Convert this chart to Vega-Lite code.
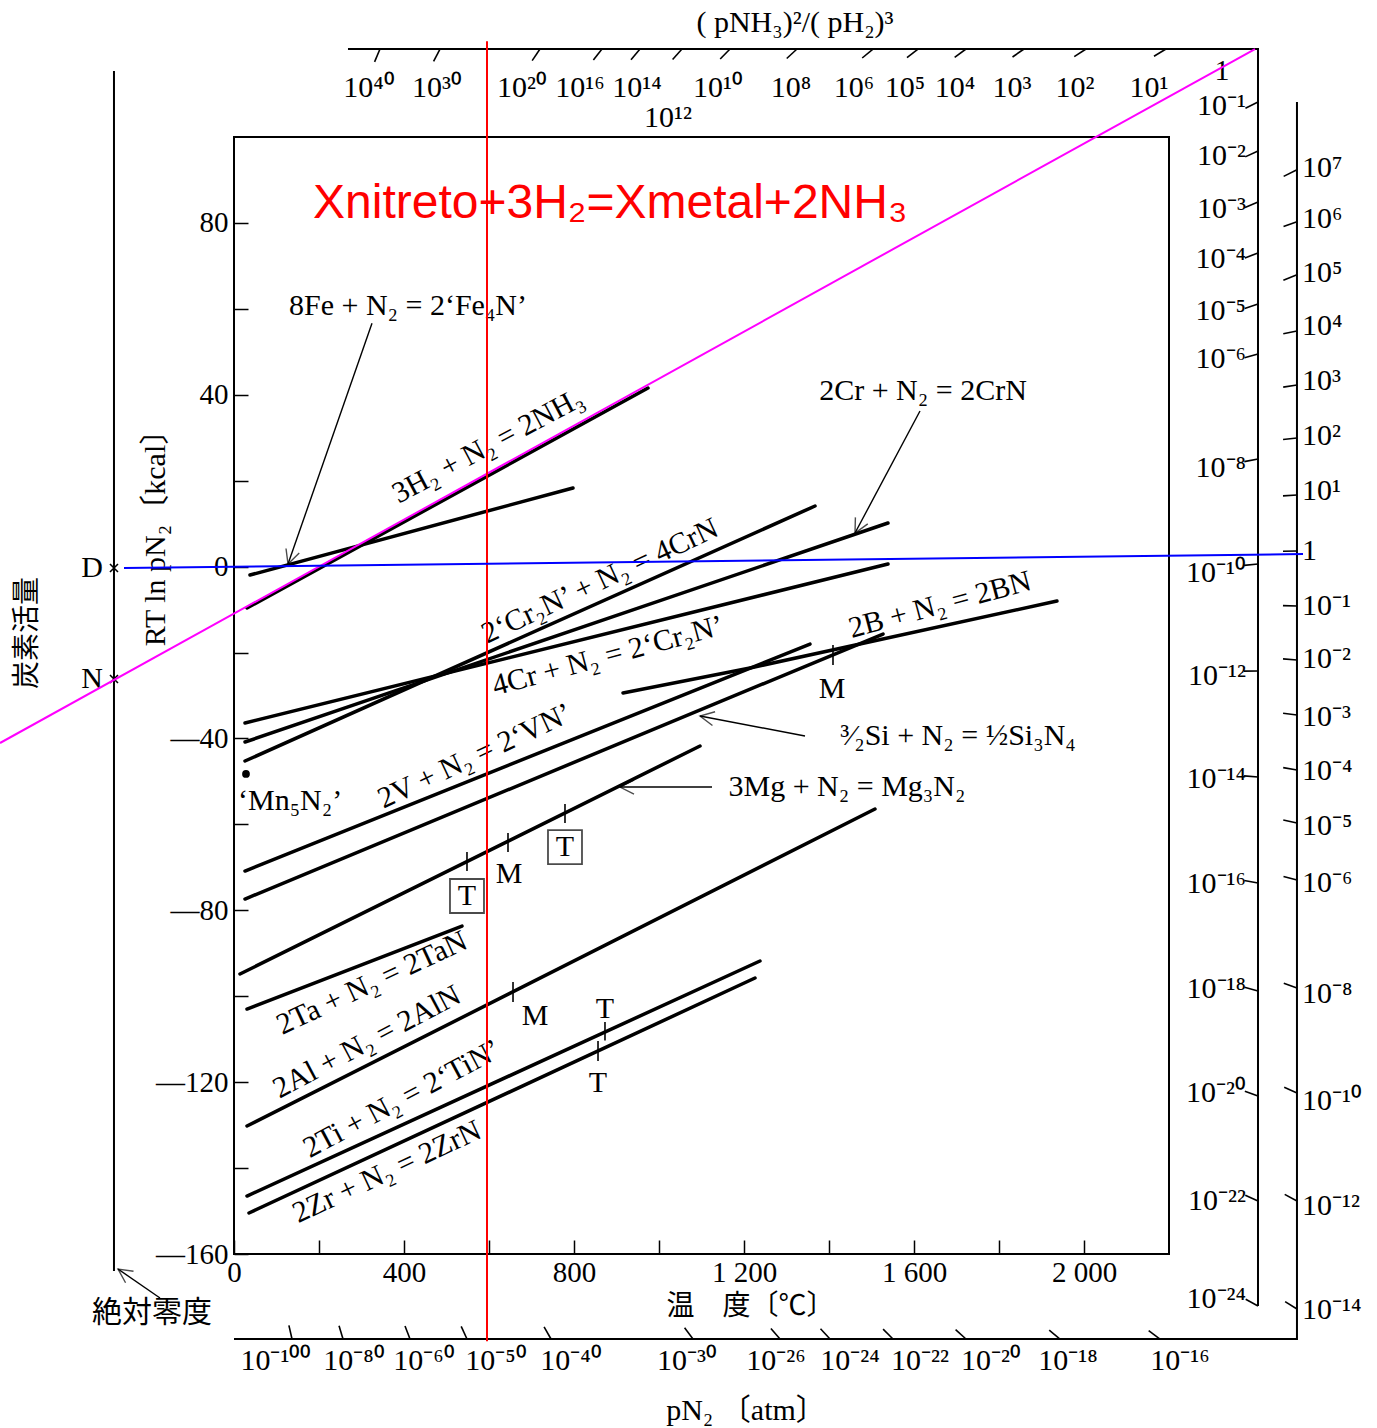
{
  "$schema": "https://vega.github.io/schema/vega-lite/v6.json",
  "width": 935,
  "height": 1117,
  "autosize": {"type": "none"},
  "padding": {"left": 234, "top": 137, "right": 208, "bottom": 174},
  "background": "white",
  "config": {
    "view": {"stroke": "black", "strokeWidth": 2},
    "text": {"font": "Liberation Serif, Noto Sans CJK JP", "color": "black", "fontSize": 30}
  },
  "datasets": {
    "curves": [
      {"r": "NH3", "T": 30.6, "G": -9.64}, {"r": "NH3", "T": 974.1, "G": 41.57},
      {"r": "Fe4N", "T": 37.6, "G": -1.96}, {"r": "Fe4N", "T": 797.6, "G": 18.3},
      {"r": "CrN from Cr2N", "T": 25.9, "G": -45.25}, {"r": "CrN from Cr2N", "T": 1367.1, "G": 14.11},
      {"r": "CrN", "T": 25.9, "G": -40.83}, {"r": "CrN", "T": 1538.8, "G": 10.15},
      {"r": "Cr2N", "T": 25.9, "G": -36.41}, {"r": "Cr2N", "T": 1538.8, "G": 0.61},
      {"r": "BN", "T": 915.3, "G": -29.42}, {"r": "BN", "T": 1214.1, "G": -23.6}, {"r": "BN", "T": 1936.4, "G": -8.01},
      {"r": "VN", "T": 25.9, "G": -70.86}, {"r": "VN", "T": 1355.3, "G": -18.02},
      {"r": "Si3N4", "T": 25.9, "G": -77.37}, {"r": "Si3N4", "T": 1527.1, "G": -15.69},
      {"r": "Mg3N2", "T": 14.1, "G": -94.83}, {"r": "Mg3N2", "T": 1096.5, "G": -41.76},
      {"r": "TaN", "T": 30.6, "G": -102.98}, {"r": "TaN", "T": 536.5, "G": -83.66},
      {"r": "AlN", "T": 30.6, "G": -130.21}, {"r": "AlN", "T": 1508.2, "G": -56.43},
      {"r": "TiN", "T": 30.6, "G": -146.51}, {"r": "TiN", "T": 1237.6, "G": -91.8},
      {"r": "ZrN", "T": 35.3, "G": -150.46}, {"r": "ZrN", "T": 1225.9, "G": -95.76}
    ],
    "frames": [
      {"f": "ratio scale", "k": 1, "T": 268.2, "G": 120.48},
      {"f": "ratio scale", "k": 2, "T": 2409.4, "G": 120.48},
      {"f": "ratio scale", "k": 3, "T": 2409.4, "G": -172.11},
      {"f": "pN2 scale", "k": 1, "T": 2501.1, "G": 108.15},
      {"f": "pN2 scale", "k": 2, "T": 2501.1, "G": -179.79},
      {"f": "pN2 scale", "k": 3, "T": 0, "G": -179.79},
      {"f": "absolute zero", "k": 1, "T": -282.4, "G": 115.36},
      {"f": "absolute zero", "k": 2, "T": -282.4, "G": -163.94}
    ],
    "ticks": [
      {"T": 343.5, "G": 120.48, "T2": 330.8, "G2": 117.48},
      {"T": 484.7, "G": 120.48, "T2": 469.6, "G2": 117.6},
      {"T": 720.0, "G": 120.48, "T2": 701.6, "G2": 117.78},
      {"T": 865.9, "G": 120.48, "T2": 845.6, "G2": 117.9},
      {"T": 955.3, "G": 120.48, "T2": 934.1, "G2": 117.97},
      {"T": 1054.1, "G": 120.48, "T2": 1032.0, "G2": 118.06},
      {"T": 1167.1, "G": 120.48, "T2": 1144.0, "G2": 118.15},
      {"T": 1324.7, "G": 120.48, "T2": 1300.5, "G2": 118.27},
      {"T": 1503.5, "G": 120.48, "T2": 1478.1, "G2": 118.39},
      {"T": 1609.4, "G": 120.48, "T2": 1583.5, "G2": 118.48},
      {"T": 1722.3, "G": 120.48, "T2": 1695.7, "G2": 118.55},
      {"T": 1858.8, "G": 120.48, "T2": 1831.8, "G2": 118.62},
      {"T": 2004.7, "G": 120.48, "T2": 1977.1, "G2": 118.71},
      {"T": 2192.9, "G": 120.48, "T2": 2164.7, "G2": 118.81},
      {"T": 2409.4, "G": 108.15, "T2": 2379.9, "G2": 106.68},
      {"T": 2409.4, "G": 96.74, "T2": 2379.5, "G2": 95.37},
      {"T": 2409.4, "G": 84.87, "T2": 2379.0, "G2": 83.61},
      {"T": 2409.4, "G": 73.0, "T2": 2378.6, "G2": 71.86},
      {"T": 2409.4, "G": 61.13, "T2": 2378.1, "G2": 60.1},
      {"T": 2409.4, "G": 49.49, "T2": 2377.6, "G2": 48.6},
      {"T": 2409.4, "G": 25.05, "T2": 2377.2, "G2": 24.44},
      {"T": 2409.4, "G": 0.61, "T2": 2376.7, "G2": 0.28},
      {"T": 2409.4, "G": -24.3, "T2": 2376.5, "G2": -24.32},
      {"T": 2409.4, "G": -48.97, "T2": 2376.6, "G2": -48.7},
      {"T": 2409.4, "G": -73.65, "T2": 2377.0, "G2": -73.07},
      {"T": 2409.4, "G": -98.79, "T2": 2377.6, "G2": -97.93},
      {"T": 2409.4, "G": -123.23, "T2": 2378.5, "G2": -122.11},
      {"T": 2409.4, "G": -147.67, "T2": 2379.5, "G2": -146.32},
      {"T": 2409.4, "G": -172.11, "T2": 2380.5, "G2": -170.55},
      {"T": 2501.1, "G": 92.36, "T2": 2469.8, "G2": 90.83},
      {"T": 2501.1, "G": 80.26, "T2": 2469.5, "G2": 79.17},
      {"T": 2501.1, "G": 67.92, "T2": 2469.1, "G2": 66.64},
      {"T": 2501.1, "G": 54.84, "T2": 2468.9, "G2": 54.19},
      {"T": 2501.1, "G": 42.27, "T2": 2468.7, "G2": 41.78},
      {"T": 2501.1, "G": 29.93, "T2": 2468.4, "G2": 29.59},
      {"T": 2501.1, "G": 16.67, "T2": 2468.2, "G2": 16.46},
      {"T": 2501.1, "G": 3.63, "T2": 2468.2, "G2": 3.58},
      {"T": 2501.1, "G": -9.17, "T2": 2468.2, "G2": -9.07},
      {"T": 2501.1, "G": -21.74, "T2": 2468.3, "G2": -21.48},
      {"T": 2501.1, "G": -34.54, "T2": 2468.4, "G2": -34.15},
      {"T": 2501.1, "G": -47.34, "T2": 2468.7, "G2": -46.79},
      {"T": 2501.1, "G": -59.68, "T2": 2468.9, "G2": -58.98},
      {"T": 2501.1, "G": -72.95, "T2": 2469.4, "G2": -72.11},
      {"T": 2501.1, "G": -98.09, "T2": 2470.1, "G2": -96.99},
      {"T": 2501.1, "G": -122.53, "T2": 2471.1, "G2": -121.2},
      {"T": 2501.1, "G": -147.67, "T2": 2472.2, "G2": -146.13},
      {"T": 2501.1, "G": -172.81, "T2": 2473.2, "G2": -171.09},
      {"T": 136.5, "G": -179.79, "T2": 129.2, "G2": -176.63},
      {"T": 256.5, "G": -179.79, "T2": 247.1, "G2": -176.68},
      {"T": 414.1, "G": -179.79, "T2": 402.4, "G2": -176.75},
      {"T": 548.2, "G": -179.79, "T2": 534.6, "G2": -176.84},
      {"T": 745.9, "G": -179.79, "T2": 729.6, "G2": -176.96},
      {"T": 1080.0, "G": -179.79, "T2": 1060.2, "G2": -177.19},
      {"T": 1284.7, "G": -179.79, "T2": 1263.3, "G2": -177.33},
      {"T": 1402.4, "G": -179.79, "T2": 1380.0, "G2": -177.4},
      {"T": 1550.6, "G": -179.79, "T2": 1527.3, "G2": -177.49},
      {"T": 1722.3, "G": -179.79, "T2": 1697.9, "G2": -177.61},
      {"T": 1943.5, "G": -179.79, "T2": 1918.1, "G2": -177.72},
      {"T": 2178.8, "G": -179.79, "T2": 2152.2, "G2": -177.86},
      {"T": 1409.4, "G": -18.25, "T2": 1409.4, "G2": -22.91},
      {"T": 548.2, "G": -66.43, "T2": 548.2, "G2": -70.86},
      {"T": 644.7, "G": -62.01, "T2": 644.7, "G2": -66.43},
      {"T": 778.8, "G": -55.26, "T2": 778.8, "G2": -59.68},
      {"T": 656.5, "G": -96.69, "T2": 656.5, "G2": -101.35},
      {"T": 872.9, "G": -105.98, "T2": 872.9, "G2": -110.33},
      {"T": 856.5, "G": -110.43, "T2": 856.5, "G2": -115.08}
    ],
    "arrows": [
      {"a": "Fe", "T": 324.7, "G": 56.63, "T2": 127.1, "G2": 0.61},
      {"a": "CrN", "T": 1614.1, "G": 36.22, "T2": 1461.2, "G2": 7.82},
      {"a": "Si", "T": 1343.5, "G": -39.43, "T2": 1096.5, "G2": -34.78},
      {"a": "Mg", "T": 1124.7, "G": -51.3, "T2": 908.2, "G2": -51.3},
      {"a": "zero", "T": -174.1, "G": -170.25, "T2": -272.9, "G2": -163.5}
    ],
    "crosses": [
      {"p": "D", "T": -282.4, "G": -0.33},
      {"p": "N", "T": -282.4, "G": -26.16}
    ],
    "dots": [{"p": "Mn5N2", "T": 28.2, "G": -48.27}],
    "boxes": [
      {"p": "T", "T": 548.2, "G": -76.67},
      {"p": "T", "T": 778.8, "G": -65.27}
    ],
    "overlay": [
      {"c": "nitrogen line", "T": -550.6, "G": -41.06},
      {"c": "nitrogen line", "T": 2402.3, "G": 120.48},
      {"c": "temperature", "T": 595.3, "G": 122.3},
      {"c": "temperature", "T": 595.3, "G": -180.3},
      {"c": "zero line", "T": -258.8, "G": -0.33},
      {"c": "zero line", "T": 2515.3, "G": 2.93}
    ],
    "labels": [
      {"g": "Fe", "s": "8Fe + N₂ = 2‘Fe₄N’", "T": 409.4, "G": 60.66},
      {"g": "CrN", "s": "2Cr + N₂ = 2CrN", "T": 1621.2, "G": 40.87},
      {"g": "Si", "s": "³⁄₂Si + N₂ = ½Si₃N₄", "T": 1703.5, "G": -39.43},
      {"g": "Mg", "s": "3Mg + N₂ = Mg₃N₂", "T": 1442.3, "G": -51.3},
      {"g": "mark", "s": "M", "T": 1407.1, "G": -28.49},
      {"g": "mark", "s": "M", "T": 647.1, "G": -71.56},
      {"g": "mark", "s": "M", "T": 708.2, "G": -104.61},
      {"g": "mark", "s": "T", "T": 872.9, "G": -102.98},
      {"g": "mark", "s": "T", "T": 856.5, "G": -120.21},
      {"g": "mark", "s": "T", "T": 548.2, "G": -76.67},
      {"g": "mark", "s": "T", "T": 778.8, "G": -65.27},
      {"g": "title", "s": "( pNH₃)²/( pH₂)³", "T": 1320.0, "G": 126.53},
      {"g": "title", "s": "pN₂ 〔atm〕", "T": 1204.7, "G": -196.55},
      {"g": "title", "s": "絶対零度", "T": -192.9, "G": -173.74},
      {"g": "topscale", "s": "10⁴⁰", "T": 317.6, "G": 111.4},
      {"g": "topscale", "s": "10³⁰", "T": 477.6, "G": 111.4},
      {"g": "topscale", "s": "10²⁰", "T": 677.6, "G": 111.4},
      {"g": "topscale", "s": "10¹⁶", "T": 814.1, "G": 111.4},
      {"g": "topscale", "s": "10¹⁴", "T": 948.2, "G": 111.4},
      {"g": "topscale", "s": "10¹²", "T": 1021.2, "G": 104.42},
      {"g": "topscale", "s": "10¹⁰", "T": 1138.8, "G": 111.4},
      {"g": "topscale", "s": "10⁸", "T": 1310.6, "G": 111.4},
      {"g": "topscale", "s": "10⁶", "T": 1458.8, "G": 111.4},
      {"g": "topscale", "s": "10⁵", "T": 1578.8, "G": 111.4},
      {"g": "topscale", "s": "10⁴", "T": 1696.5, "G": 111.4},
      {"g": "topscale", "s": "10³", "T": 1830.6, "G": 111.4},
      {"g": "topscale", "s": "10²", "T": 1978.8, "G": 111.4},
      {"g": "topscale", "s": "10¹", "T": 2152.9, "G": 111.4},
      {"g": "topscale", "s": "1", "T": 2324.7, "G": 115.36},
      {"g": "bottomscale", "s": "10⁻¹⁰⁰", "T": 98.8, "G": -184.91},
      {"g": "bottomscale", "s": "10⁻⁸⁰", "T": 282.4, "G": -184.91},
      {"g": "bottomscale", "s": "10⁻⁶⁰", "T": 447.1, "G": -184.91},
      {"g": "bottomscale", "s": "10⁻⁵⁰", "T": 616.5, "G": -184.91},
      {"g": "bottomscale", "s": "10⁻⁴⁰", "T": 792.9, "G": -184.91},
      {"g": "bottomscale", "s": "10⁻³⁰", "T": 1065.9, "G": -184.91},
      {"g": "bottomscale", "s": "10⁻²⁶", "T": 1275.3, "G": -184.91},
      {"g": "bottomscale", "s": "10⁻²⁴", "T": 1449.4, "G": -184.91},
      {"g": "bottomscale", "s": "10⁻²²", "T": 1614.1, "G": -184.91},
      {"g": "bottomscale", "s": "10⁻²⁰", "T": 1781.1, "G": -184.91},
      {"g": "bottomscale", "s": "10⁻¹⁸", "T": 1962.3, "G": -184.91},
      {"g": "bottomscale", "s": "10⁻¹⁶", "T": 2225.8, "G": -184.91},
      {"g": "rightscale1", "s": "10⁻¹", "T": 2381.2, "G": 107.21},
      {"g": "rightscale1", "s": "10⁻²", "T": 2381.2, "G": 95.58},
      {"g": "rightscale1", "s": "10⁻³", "T": 2381.2, "G": 83.24},
      {"g": "rightscale1", "s": "10⁻⁴", "T": 2381.2, "G": 71.6},
      {"g": "rightscale1", "s": "10⁻⁵", "T": 2381.2, "G": 59.5},
      {"g": "rightscale1", "s": "10⁻⁶", "T": 2381.2, "G": 48.32},
      {"g": "rightscale1", "s": "10⁻⁸", "T": 2381.2, "G": 22.95},
      {"g": "rightscale1", "s": "10⁻¹⁰", "T": 2381.2, "G": -1.49},
      {"g": "rightscale1", "s": "10⁻¹²", "T": 2381.2, "G": -25.47},
      {"g": "rightscale1", "s": "10⁻¹⁴", "T": 2381.2, "G": -49.44},
      {"g": "rightscale1", "s": "10⁻¹⁶", "T": 2381.2, "G": -73.88},
      {"g": "rightscale1", "s": "10⁻¹⁸", "T": 2381.2, "G": -98.33},
      {"g": "rightscale1", "s": "10⁻²⁰", "T": 2381.2, "G": -122.53},
      {"g": "rightscale1", "s": "10⁻²²", "T": 2381.2, "G": -147.67},
      {"g": "rightscale1", "s": "10⁻²⁴", "T": 2381.2, "G": -170.48},
      {"g": "point", "s": "D", "T": -308.2, "G": -0.33},
      {"g": "point", "s": "N", "T": -308.2, "G": -26.16},
      {"g": "rightscale2", "s": "10⁷", "T": 2512.9, "G": 92.78},
      {"g": "rightscale2", "s": "10⁶", "T": 2512.9, "G": 80.91},
      {"g": "rightscale2", "s": "10⁵", "T": 2512.9, "G": 68.34},
      {"g": "rightscale2", "s": "10⁴", "T": 2512.9, "G": 56.0},
      {"g": "rightscale2", "s": "10³", "T": 2512.9, "G": 43.2},
      {"g": "rightscale2", "s": "10²", "T": 2512.9, "G": 30.4},
      {"g": "rightscale2", "s": "10¹", "T": 2512.9, "G": 17.59},
      {"g": "rightscale2", "s": "1", "T": 2512.9, "G": 3.63},
      {"g": "rightscale2", "s": "10⁻¹", "T": 2512.9, "G": -9.17},
      {"g": "rightscale2", "s": "10⁻²", "T": 2512.9, "G": -21.51},
      {"g": "rightscale2", "s": "10⁻³", "T": 2512.9, "G": -35.01},
      {"g": "rightscale2", "s": "10⁻⁴", "T": 2512.9, "G": -47.58},
      {"g": "rightscale2", "s": "10⁻⁵", "T": 2512.9, "G": -60.38},
      {"g": "rightscale2", "s": "10⁻⁶", "T": 2512.9, "G": -73.65},
      {"g": "rightscale2", "s": "10⁻⁸", "T": 2512.9, "G": -99.49},
      {"g": "rightscale2", "s": "10⁻¹⁰", "T": 2512.9, "G": -124.4},
      {"g": "rightscale2", "s": "10⁻¹²", "T": 2512.9, "G": -148.84},
      {"g": "rightscale2", "s": "10⁻¹⁴", "T": 2512.9, "G": -173.04},
      {"g": "compound", "s": "‘Mn₅N₂’", "T": 9.4, "G": -54.56},
      {"g": "NH3", "s": "3H₂ + N₂ = 2NH₃", "T": 597.6, "G": 28.07},
      {"g": "AlN", "s": "2Al + N₂ = 2AlN", "T": 312.9, "G": -110.66},
      {"g": "TiN", "s": "2Ti + N₂ = 2‘TiN’", "T": 395.3, "G": -123.93},
      {"g": "CrN from Cr2N", "s": "2‘Cr₂N’ + N₂ = 4CrN", "T": 861.2, "G": -3.38},
      {"g": "VN", "s": "2V + N₂ = 2‘VN’", "T": 567.1, "G": -44.14},
      {"g": "TaN", "s": "2Ta + N₂ = 2TaN", "T": 324.7, "G": -96.93},
      {"g": "ZrN", "s": "2Zr + N₂ = 2ZrN", "T": 360.0, "G": -140.91},
      {"g": "Cr2N", "s": "4Cr + N₂ = 2‘Cr₂N’", "T": 880.0, "G": -20.81},
      {"g": "BN", "s": "2B + N₂ = 2BN", "T": 1661.2, "G": -8.94},
      {"g": "carbon", "s": "炭素活量", "T": -484.7, "G": -15.46},
      {"g": "note", "s": "Xnitreto+3H₂=Xmetal+2NH₃", "T": 185.9, "G": 81.14}
    ]
  },
  "encoding": {
    "x": {
      "field": "T", "type": "quantitative",
      "scale": {"domain": [0, 2200], "nice": false, "zero": false},
      "axis": {
        "values": [0, 200, 400, 600, 800, 1000, 1200, 1400, 1600, 1800, 2000],
        "labelExpr": "datum.value % 400 != 0 ? '' : replace(format(datum.value, ','), ',', ' ')",
        "grid": false, "domain": false,
        "tickSize": -14, "tickWidth": 1.5, "tickColor": "black",
        "labelFont": "Liberation Serif", "labelFontSize": 29, "labelColor": "black",
        "labelPadding": 18, "labelOverlap": false, "labelFlush": false, "labelBound": false,
        "title": "温　度〔℃〕", "titleFont": "Liberation Serif, Noto Sans CJK JP",
        "titleFontSize": 28, "titleFontWeight": "normal", "titleColor": "black",
        "titleX": 516, "titleY": 52, "titleBaseline": "middle", "titleAlign": "center"
      }
    },
    "y": {
      "field": "G", "type": "quantitative",
      "scale": {"domain": [-160, 100], "nice": false, "zero": false},
      "axis": {
        "values": [-160, -140, -120, -100, -80, -60, -40, -20, 0, 20, 40, 60, 80],
        "labelExpr": "datum.value % 40 != 0 ? '' : (datum.value < 0 ? '—' + format(-datum.value, 'd') : format(datum.value, 'd'))",
        "grid": false, "domain": false,
        "tickSize": -14, "tickWidth": 1.5, "tickColor": "black",
        "labelFont": "Liberation Serif", "labelFontSize": 29, "labelColor": "black",
        "labelPadding": 20, "labelOverlap": false, "labelFlush": false, "labelBound": false,
        "title": "RT ln  pN₂〔kcal〕", "titleFont": "Liberation Serif, Noto Sans CJK JP",
        "titleFontSize": 30, "titleFontWeight": "normal", "titleColor": "black",
        "titleAngle": 270, "titleX": -79, "titleY": 393, "titleBaseline": "middle", "titleAlign": "center"
      }
    }
  },
  "layer": [
    {
      "data": {"name": "curves"},
      "mark": {"type": "line", "stroke": "black", "strokeWidth": 3.5, "strokeCap": "round"},
      "encoding": {"detail": {"field": "r"}}
    },
    {
      "data": {"name": "frames"},
      "mark": {"type": "line", "stroke": "black", "strokeWidth": 2},
      "encoding": {"detail": {"field": "f"}, "order": {"field": "k"}}
    },
    {
      "data": {"name": "ticks"},
      "mark": {"type": "rule", "stroke": "black", "strokeWidth": 1.6},
      "encoding": {"x2": {"field": "T2"}, "y2": {"field": "G2"}}
    },
    {
      "data": {"name": "arrows"},
      "mark": {"type": "rule", "stroke": "black", "strokeWidth": 1.4},
      "encoding": {"x2": {"field": "T2"}, "y2": {"field": "G2"}}
    },
    {
      "data": {"name": "arrows"},
      "transform": [{"filter": "datum.a == 'Fe'"}],
      "mark": {"type": "point", "shape": "M -1 -0.5 L 0 0 L -1 0.5", "filled": false, "color": "black", "strokeWidth": 1.4, "size": 784, "angle": 109.2},
      "encoding": {"x": {"field": "T2", "type": "quantitative"}, "y": {"field": "G2", "type": "quantitative"}}
    },
    {
      "data": {"name": "arrows"},
      "transform": [{"filter": "datum.a == 'CrN'"}],
      "mark": {"type": "point", "shape": "M -1 -0.5 L 0 0 L -1 0.5", "filled": false, "color": "black", "strokeWidth": 1.4, "size": 784, "angle": 118},
      "encoding": {"x": {"field": "T2", "type": "quantitative"}, "y": {"field": "G2", "type": "quantitative"}}
    },
    {
      "data": {"name": "arrows"},
      "transform": [{"filter": "datum.a == 'Si'"}],
      "mark": {"type": "point", "shape": "M -1 -0.5 L 0 0 L -1 0.5", "filled": false, "color": "black", "strokeWidth": 1.4, "size": 784, "angle": 190.8},
      "encoding": {"x": {"field": "T2", "type": "quantitative"}, "y": {"field": "G2", "type": "quantitative"}}
    },
    {
      "data": {"name": "arrows"},
      "transform": [{"filter": "datum.a == 'Mg'"}],
      "mark": {"type": "point", "shape": "M -1 -0.5 L 0 0 L -1 0.5", "filled": false, "color": "black", "strokeWidth": 1.4, "size": 784, "angle": 180},
      "encoding": {"x": {"field": "T2", "type": "quantitative"}, "y": {"field": "G2", "type": "quantitative"}}
    },
    {
      "data": {"name": "arrows"},
      "transform": [{"filter": "datum.a == 'zero'"}],
      "mark": {"type": "point", "shape": "M -1 -0.5 L 0 0 L -1 0.5", "filled": false, "color": "black", "strokeWidth": 1.4, "size": 784, "angle": 214.6},
      "encoding": {"x": {"field": "T2", "type": "quantitative"}, "y": {"field": "G2", "type": "quantitative"}}
    },
    {
      "data": {"name": "boxes"},
      "mark": {"type": "point", "shape": "square", "filled": false, "color": "black", "strokeWidth": 1.8, "size": 1156}
    },
    {
      "data": {"name": "crosses"},
      "mark": {"type": "point", "shape": "M -1 -1 L 1 1 M -1 1 L 1 -1", "filled": false, "color": "black", "strokeWidth": 1.6, "size": 64, "opacity": 1}
    },
    {
      "data": {"name": "dots"},
      "mark": {"type": "point", "shape": "circle", "filled": true, "color": "black", "size": 60, "opacity": 1}
    },
    {
      "data": {"name": "labels"},
      "transform": [{"filter": {"field": "g", "oneOf": ["Fe", "CrN", "Si", "Mg", "mark", "title", "topscale", "bottomscale"]}}],
      "mark": {"type": "text", "align": "center", "baseline": "middle", "fontSize": 30},
      "encoding": {"text": {"field": "s"}}
    },
    {
      "data": {"name": "labels"},
      "transform": [{"filter": {"field": "g", "oneOf": ["rightscale1", "point"]}}],
      "mark": {"type": "text", "align": "right", "baseline": "middle", "fontSize": 30},
      "encoding": {"text": {"field": "s"}}
    },
    {
      "data": {"name": "labels"},
      "transform": [{"filter": {"field": "g", "oneOf": ["rightscale2", "compound"]}}],
      "mark": {"type": "text", "align": "left", "baseline": "middle", "fontSize": 30},
      "encoding": {"text": {"field": "s"}}
    },
    {
      "data": {"name": "labels"},
      "transform": [{"filter": {"field": "g", "oneOf": ["NH3", "AlN", "TiN"]}}],
      "mark": {"type": "text", "align": "center", "baseline": "middle", "fontSize": 30, "angle": -28},
      "encoding": {"text": {"field": "s"}}
    },
    {
      "data": {"name": "labels"},
      "transform": [{"filter": {"field": "g", "oneOf": ["CrN from Cr2N", "VN", "TaN", "ZrN"]}}],
      "mark": {"type": "text", "align": "center", "baseline": "middle", "fontSize": 30, "angle": -25},
      "encoding": {"text": {"field": "s"}}
    },
    {
      "data": {"name": "labels"},
      "transform": [{"filter": {"field": "g", "oneOf": ["Cr2N", "BN"]}}],
      "mark": {"type": "text", "align": "center", "baseline": "middle", "fontSize": 30, "angle": -15},
      "encoding": {"text": {"field": "s"}}
    },
    {
      "data": {"name": "labels"},
      "transform": [{"filter": "datum.g == 'carbon'"}],
      "mark": {"type": "text", "align": "center", "baseline": "middle", "fontSize": 28, "angle": 270, "font": "Noto Sans CJK JP"},
      "encoding": {"text": {"field": "s"}}
    },
    {
      "data": {"name": "overlay"},
      "mark": {"type": "line", "strokeWidth": 2},
      "encoding": {
        "detail": {"field": "c"},
        "color": {"field": "c", "type": "nominal", "legend": null,
          "scale": {"domain": ["nitrogen line", "temperature", "zero line"], "range": ["#ff00ff", "#ff0000", "#0000ff"]}}
      }
    },
    {
      "data": {"name": "labels"},
      "transform": [{"filter": "datum.g == 'note'"}],
      "mark": {"type": "text", "align": "left", "baseline": "alphabetic", "fontSize": 48, "font": "Liberation Sans", "color": "#ff0000"},
      "encoding": {"text": {"field": "s"}}
    }
  ]
}
